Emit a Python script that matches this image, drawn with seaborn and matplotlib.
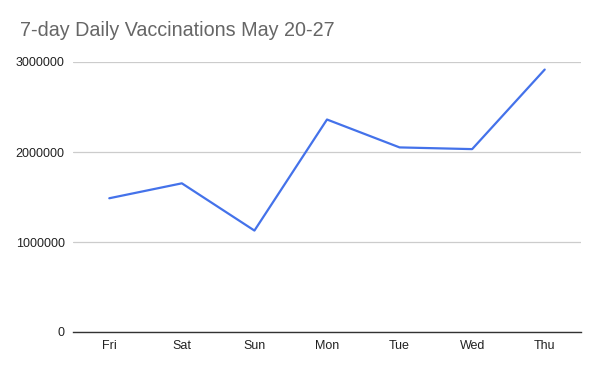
import matplotlib
matplotlib.use("Agg")
import matplotlib.pyplot as plt
import seaborn as sns
import pandas as pd

days = ["Fri", "Sat", "Sun", "Mon", "Tue", "Wed", "Thu"]
vaccinations = [1486000, 1652000, 1127000, 2361000, 2051000, 2032000, 2916000]
y_ticks = [0, 1000000, 2000000, 3000000]
title = "7-day Daily Vaccinations May 20-27"

sns.set_theme(style="white")
plt.rcParams["font.family"] = ["Liberation Sans", "DejaVu Sans"]

df = pd.DataFrame({"day": days, "value": vaccinations})

fig = plt.figure(figsize=(6, 3.71), dpi=100)
ax = fig.add_axes([73/600, 1-332/371, (581-73)/600, (332-62)/371])

sns.lineplot(data=df, x="day", y="value", sort=False, ax=ax, color="#4472EA", linewidth=1.6)

ax.set_xlim(-0.5, len(days) - 0.5)
ax.set_ylim(0, 3000000)
ax.set_yticks(y_ticks)
ax.set_yticklabels([str(v) for v in y_ticks])
ax.set_xlabel("")
ax.set_ylabel("")
ax.grid(axis="y", color="#cccccc", linewidth=0.9)
ax.grid(axis="x", visible=False)
for s in ["top", "right", "left"]:
    ax.spines[s].set_visible(False)
ax.spines["bottom"].set_color("#333333")
ax.spines["bottom"].set_linewidth(1.0)
ax.set_axisbelow(True)
ax.tick_params(axis="both", length=0, labelsize=9, labelcolor="#222222")
ax.tick_params(axis="y", pad=6)
ax.tick_params(axis="x", pad=6)

fig.text(20/600, 1-31/371, title, fontsize=14.2, color="#666666", va="center", ha="left",
         family=["Liberation Sans", "DejaVu Sans"])

fig.savefig("out.png", dpi=100, facecolor="white")
